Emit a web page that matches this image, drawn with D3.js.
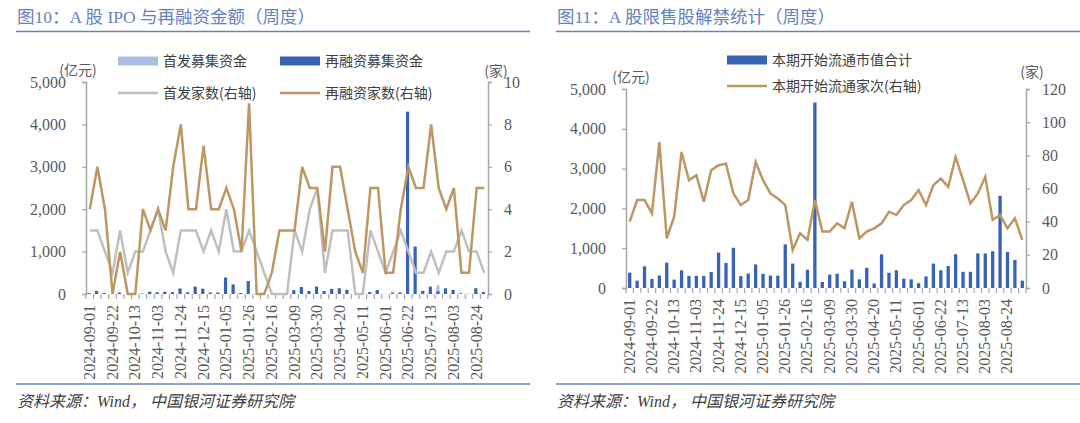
<!DOCTYPE html>
<html>
<head>
<meta charset="utf-8">
<script src="https://cdn.jsdelivr.net/npm/d3@7"></script>
<style>
body { margin: 0; background: #fff; }
svg { display: block; }
</style>
</head>
<body>
<svg width="1080" height="423"></svg>
<script>
// weekly categories
const weeks = ["2024-09-01","2024-09-08","2024-09-15","2024-09-22","2024-09-29","2024-10-06","2024-10-13","2024-10-20","2024-10-27",
"2024-11-03","2024-11-10","2024-11-17","2024-11-24","2024-12-01","2024-12-08","2024-12-15","2024-12-22","2024-12-29",
"2025-01-05","2025-01-12","2025-01-19","2025-01-26","2025-02-02","2025-02-09","2025-02-16","2025-02-23","2025-03-02",
"2025-03-09","2025-03-16","2025-03-23","2025-03-30","2025-04-06","2025-04-13","2025-04-20","2025-04-27","2025-05-04",
"2025-05-11","2025-05-18","2025-05-25","2025-06-01","2025-06-08","2025-06-15","2025-06-22","2025-06-29","2025-07-06",
"2025-07-13","2025-07-20","2025-07-27","2025-08-03","2025-08-10","2025-08-17","2025-08-24","2025-08-31","2025-09-07"];
const tickLabels = ["2024-09-01","2024-09-22","2024-10-13","2024-11-03","2024-11-24","2024-12-15","2025-01-05","2025-01-26",
"2025-02-16","2025-03-09","2025-03-30","2025-04-20","2025-05-11","2025-06-01","2025-06-22","2025-07-13","2025-08-03","2025-08-24"];

// 图10 (53 weeks)
const ipoAmount = [15,20,12,8,25,8,12,10,20,30,15,8,20,20,25,15,25,15,40,15,15,25,15,8,0,0,0,20,15,30,45,8,20,20,20,0,0,25,15,8,55,20,15,8,8,15,200,15,15,35,15,15,8];
const refiAmount = [20,70,25,0,35,0,0,10,55,40,55,45,130,40,175,125,35,35,390,225,25,305,0,0,0,0,0,90,165,70,175,70,120,135,100,0,0,45,95,0,20,35,4300,1120,75,175,60,135,95,10,0,135,45];
const ipoCount = [3,3,2,1,3,1,2,2,3,4,2,1,3,3,3,2,3,2,4,2,2,3,2,1,0,0,0,3,2,4,5,1,3,3,3,0,0,3,2,1,2,3,2,1,1,2,1,2,2,3,2,2,1];
const refiCount = [4,6,4,0,2,0,0,4,3,4,3,6,8,4,4,7,4,4,5,4,2,9,0,0,1,3,3,3,6,5,5,2,6,6,4,2,1,5,5,1,1,4,6,5,5,8,5,4,5,1,1,5,5];

// 图11 (54 weeks)
const unlockValue = [386,185,546,230,315,638,210,445,305,305,305,403,890,630,1010,298,361,592,355,311,311,1095,613,155,458,4660,151,336,357,168,462,218,508,113,845,382,445,235,218,122,290,613,445,550,848,407,407,870,870,924,2318,907,705,185];
const unlockCount = [40,53,53,45,88,30,43,82,65,68,52,71,74,75,57,50,53,76,65,57,54,50,23,33,29,53,34,34,39,36,52,30,34,36,39,46,44,50,53,59,50,62,66,61,79,65,51,57,67,41,44,36,42,29];

const C_LIGHT = "#A9BFE6", C_DARK = "#3863B5", C_GOLD = "#BD9763", C_GREY = "#BFBFBF";
const C_AXIS = "#A6A6A6", C_TEXT = "#595959", C_TITLE = "#6482BC";
const serif = "'Liberation Serif','Noto Sans CJK SC',serif";
const cjk = "'Noto Sans CJK SC','Liberation Sans',sans-serif";

let svg = d3.select("svg");

function header(x0, x1, title) {
    svg.append("text").attr("x", x0 + 1).attr("y", 23)
        .style("font-family", serif).style("font-size", "17.5px").attr("fill", C_TITLE)
        .text(title);
    svg.append("line").attr("x1", x0).attr("x2", x1).attr("y1", 31.5).attr("y2", 31.5)
        .attr("stroke", C_TITLE).attr("stroke-width", 1.5);
    svg.append("line").attr("x1", x0).attr("x2", x1).attr("y1", 384).attr("y2", 384)
        .attr("stroke", C_TITLE).attr("stroke-width", 1.5);
    svg.append("text").attr("x", x0 + 1).attr("y", 407)
        .style("font-family", serif).style("font-size", "16px").style("font-style", "italic")
        .attr("fill", "#404040").text("资料来源：Wind，  中国银河证券研究院");
}

// axes shared by both charts
function frame(cats, left, right, top, bottom, yL, yR, yLticks, yRticks, fmtR) {
    let x = d3.scaleBand().domain(cats).range([left, right]).padding(0);
    let axL = svg.append("g").attr("transform", `translate(${left},0)`)
        .call(d3.axisLeft(yL).tickValues(yLticks).tickFormat(d3.format(",")).tickSize(4).tickPadding(16));
    let axR = svg.append("g").attr("transform", `translate(${right},0)`)
        .call(d3.axisRight(yR).tickValues(yRticks).tickFormat(fmtR).tickSize(4).tickPadding(12));
    // category ticks at band edges
    let edges = cats.map(d => x(d)).concat([right]);
    svg.append("g").selectAll("line").data(edges).enter().append("line")
        .attr("x1", d => d).attr("x2", d => d).attr("y1", bottom).attr("y2", bottom + 5)
        .attr("stroke", C_AXIS).attr("stroke-width", 1.2);
    svg.append("g").selectAll("text").data(tickLabels).enter().append("text")
        .attr("transform", d => `translate(${x(d) + x.bandwidth() / 2 + 5},${bottom + 11}) rotate(-90)`)
        .attr("text-anchor", "end")
        .style("font-family", serif).style("font-size", "16px").attr("fill", C_TEXT)
        .text(d => d);
    [axL, axR].forEach(a => {
        a.select(".domain").attr("stroke", C_AXIS).attr("stroke-width", 1.5);
        a.selectAll(".tick line").attr("stroke", C_AXIS).attr("stroke-width", 1.2);
        a.selectAll(".tick text").style("font-family", serif).style("font-size", "16px").attr("fill", C_TEXT);
    });
    return x;
}

function legendItem(x, y, type, color, label) {
    if (type == "rect")
        svg.append("rect").attr("x", x).attr("y", y - 4.5).attr("width", 40).attr("height", 9).attr("fill", color);
    else
        svg.append("line").attr("x1", x).attr("x2", x + 40).attr("y1", y).attr("y2", y)
            .attr("stroke", color).attr("stroke-width", 2.5);
    svg.append("text").attr("x", x + 45).attr("y", y + 5)
        .style("font-family", cjk).style("font-size", "14px").attr("fill", "#404040").text(label);
}

// ---------- 图10 ----------
header(16, 530, "图10：A 股 IPO 与再融资金额（周度）");
{
    let left = 86, right = 488, top = 82, bottom = 294;
    let cats = weeks.slice(0, 53);
    let yL = d3.scaleLinear().domain([0, 5000]).range([bottom, top]);
    let yR = d3.scaleLinear().domain([0, 10]).range([bottom, top]);
    let x = frame(cats, left, right, top, bottom, yL, yR, d3.range(0, 5001, 1000), d3.range(0, 11, 2), d3.format("d"));
    let bw = 3.2;
    let g = svg.append("g");
    g.selectAll(".ipo").data(cats).enter().append("rect")
        .attr("x", d => x(d) + x.bandwidth() / 2 - bw / 2 - 0.8).attr("width", bw)
        .attr("y", (d, i) => yL(ipoAmount[i])).attr("height", (d, i) => bottom - yL(ipoAmount[i]))
        .attr("fill", C_LIGHT);
    g.selectAll(".refi").data(cats).enter().append("rect")
        .attr("x", d => x(d) + x.bandwidth() / 2 - bw / 2 - 0.8).attr("width", bw)
        .attr("y", (d, i) => yL(refiAmount[i])).attr("height", (d, i) => bottom - yL(refiAmount[i]))
        .attr("fill", C_DARK);
    let line = d3.line().x(d => x(d.w) + x.bandwidth() / 2).y(d => yR(d.v));
    svg.append("path").datum(cats.map((w, i) => ({w: w, v: ipoCount[i]})))
        .attr("d", line).attr("fill", "none").attr("stroke", C_GREY).attr("stroke-width", 2.5);
    svg.append("path").datum(cats.map((w, i) => ({w: w, v: refiCount[i]})))
        .attr("d", line).attr("fill", "none").attr("stroke", C_GOLD).attr("stroke-width", 2.5);
    svg.append("text").attr("x", 78).attr("y", 75).attr("text-anchor", "middle")
        .style("font-family", cjk).style("font-size", "14px").attr("fill", C_TEXT).text("(亿元)");
    svg.append("text").attr("x", 496).attr("y", 76).attr("text-anchor", "middle")
        .style("font-family", cjk).style("font-size", "14px").attr("fill", C_TEXT).text("(家)");
    legendItem(118, 61, "rect", C_LIGHT, "首发募集资金");
    legendItem(280, 61, "rect", C_DARK, "再融资募集资金");
    legendItem(118, 93, "line", C_GREY, "首发家数(右轴)");
    legendItem(280, 93, "line", C_GOLD, "再融资家数(右轴)");
}

// ---------- 图11 ----------
header(556, 1080, "图11：A 股限售股解禁统计（周度）");
{
    let left = 626, right = 1026, top = 89, bottom = 288;
    let cats = weeks;
    let yL = d3.scaleLinear().domain([0, 5000]).range([bottom, top]);
    let yR = d3.scaleLinear().domain([0, 120]).range([bottom, top]);
    let x = frame(cats, left, right, top, bottom, yL, yR, d3.range(0, 5001, 1000), d3.range(0, 121, 20), d3.format("d"));
    let bw = 3.3;
    svg.append("g").selectAll("rect").data(cats).enter().append("rect")
        .attr("x", d => x(d) + x.bandwidth() / 2 - bw / 2).attr("width", bw)
        .attr("y", (d, i) => yL(unlockValue[i])).attr("height", (d, i) => bottom - yL(unlockValue[i]))
        .attr("fill", C_DARK);
    let line = d3.line().x(d => x(d.w) + x.bandwidth() / 2).y(d => yR(d.v));
    svg.append("path").datum(cats.map((w, i) => ({w: w, v: unlockCount[i]})))
        .attr("d", line).attr("fill", "none").attr("stroke", C_GOLD).attr("stroke-width", 2.5);
    svg.append("text").attr("x", 631).attr("y", 82).attr("text-anchor", "middle")
        .style("font-family", cjk).style("font-size", "14px").attr("fill", C_TEXT).text("(亿元)");
    svg.append("text").attr("x", 1032).attr("y", 77).attr("text-anchor", "middle")
        .style("font-family", cjk).style("font-size", "14px").attr("fill", C_TEXT).text("(家)");
    legendItem(727, 60, "rect", C_DARK, "本期开始流通市值合计");
    legendItem(727, 86, "line", C_GOLD, "本期开始流通家次(右轴)");
}
</script>
</body>
</html>
